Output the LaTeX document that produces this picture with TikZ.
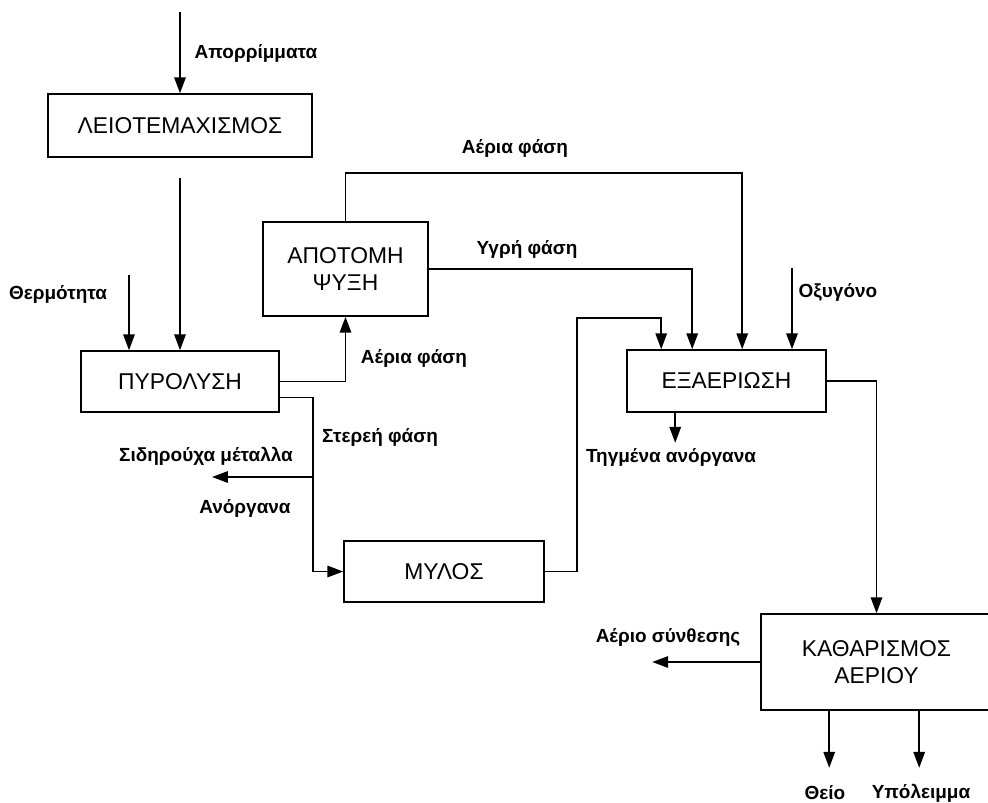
\documentclass[tikz,border=0pt]{standalone}
\usepackage{fontspec}
\setmainfont{Liberation Sans}
\usetikzlibrary{arrows.meta}

\tikzset{
  unit/.style={draw, line width=0.9pt, align=center, inner sep=0pt,
    font=\fontsize{13}{15.5}\selectfont},
  flow/.style={line width=0.9pt, -{Triangle[length=9pt,width=6.5pt]}},
  lab/.style={font=\fontsize{10.8}{13}\selectfont\bfseries, inner sep=0pt}
}

\begin{document}
\begin{tikzpicture}[x=0.02cm, y=-0.02cm]
\useasboundingbox (0,0) rectangle (988,802);

% ---- process units ----
\node[unit, minimum width=5.28cm, minimum height=1.26cm] (shred)  at (180,125.5) {ΛΕΙΟΤΕΜΑΧΙΣΜΟΣ};
\node[unit, minimum width=3.96cm, minimum height=1.22cm] (pyro)   at (180,381.5) {ΠΥΡΟΛΥΣΗ};
\node[unit, minimum width=3.30cm, minimum height=1.88cm] (quench) at (345.5,269) {ΑΠΟΤΟΜΗ\\ΨΥΞΗ};
\node[unit, minimum width=4.00cm, minimum height=1.22cm] (mill)   at (444,571.5) {ΜΥΛΟΣ};
\node[unit, minimum width=3.98cm, minimum height=1.24cm] (gasif)  at (726.5,381) {ΕΞΑΕΡΙΩΣΗ};
\node[unit, minimum width=4.62cm, minimum height=1.92cm] (clean)  at (876.5,662) {ΚΑΘΑΡΙΣΜΟΣ\\ΑΕΡΙΟΥ};

% ---- free ends ----
\coordinate (waste) at (180,12);
\coordinate (heat)  at (129,275);
\coordinate (oxy)   at (792,268);
\coordinate (solid) at (313,477);
\coordinate (fe)    at (212,477);
\coordinate (millup) at (577,318);

% ---- feed line ----
\draw[flow] (waste) -- (shred);
\draw[flow, shorten <=0.4cm] (shred.south) -- (pyro.north);
\draw[flow] (heat) -- (heat |- pyro.north);

% ---- pyrolysis products ----
\draw[flow] (pyro.east) -| (quench.south);
\draw[flow] ([yshift=-0.32cm]pyro.east) -| (solid) |- (mill.west);
\draw[flow] (solid) -- (fe);

% ---- to gasification ----
\draw[flow] (mill.east) -| (millup) -| ([xshift=0.7cm]gasif.north west);
\draw[flow] (quench.east) -| ([xshift=1.32cm]gasif.north west);
\draw[flow] (quench.north) -- ++(0,-48) -| ([xshift=2.32cm]gasif.north west);
\draw[flow] (oxy) -- (oxy |- gasif.north);
\draw[flow] ([xshift=0.98cm]gasif.south west) -- ++(0,30);

% ---- gas cleaning ----
\draw[flow] (gasif.east) -| (clean.north);
\draw[flow] (clean.west) -- ++(-108,0);
\draw[flow] ([xshift=1.38cm]clean.south west) -- ++(0,57);
\draw[flow] ([xshift=3.18cm]clean.south west) -- ++(0,57);

% ---- stream labels ----
\node[lab] (lwaste) at (256,53)  {Απορρίμματα};
\node[lab] (lheat)  at (58,294)  {Θερμότητα};
\node[lab] (lgas1)  at (414,358) {Αέρια φάση};
\node[lab] (lsolid) at (380,437) {Στερεή φάση};
\node[lab] (lfe)    at (206,456) {Σιδηρούχα μέταλλα};
\node[lab] (linorg) at (245,508) {Ανόργανα};
\node[lab] (lgas2)  at (515,148) {Αέρια φάση};
\node[lab] (lliq)   at (527,249) {Υγρή φάση};
\node[lab] (loxy)   at (838,292) {Οξυγόνο};
\node[lab] (lslag)  at (671,457) {Τηγμένα ανόργανα};
\node[lab] (lsyn)   at (668,637) {Αέριο σύνθεσης};
\node[lab] (lsulf)  at (825,793) {Θείο};
\node[lab] (lres)   at (921,793) {Υπόλειμμα};

\end{tikzpicture}
\end{document}
